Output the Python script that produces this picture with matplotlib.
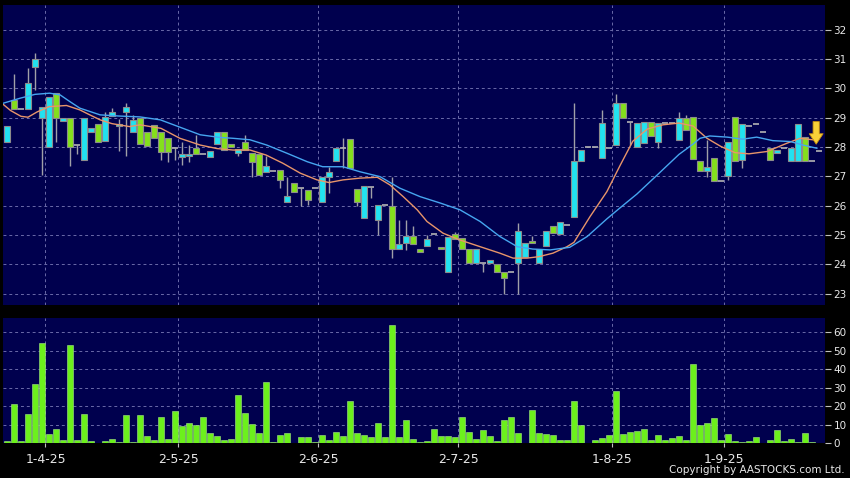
import numpy as np
import matplotlib
matplotlib.use('Agg')
import matplotlib.pyplot as plt

# daily candles (one per trading day, late Mar - mid Sep 2025)
opens = [28.17, 29.61, 29.30, 29.30, 30.73, 29.00, 28.02, 29.84, 28.90, 28.99,
         28.07, 27.56, 28.51, 28.80, 28.21, 29.06, 28.72, 29.21, 28.51, 28.99,
         28.51, 28.76, 28.51, 28.30, 27.98, 27.67, 27.68, 27.98, 27.76, 27.65,
         28.11, 28.53, 28.10, 27.79, 28.19, 27.79, 27.76, 27.14, 27.18, 27.22,
         26.13, 26.77, 26.60, 26.54, 26.60, 26.14, 26.99, 27.51, 27.96, 28.27,
         26.56, 25.57, 26.64, 25.50, 26.02, 26.00, 24.52, 24.72, 24.95, 24.52,
         24.62, 25.03, 24.60, 23.75, 25.02, 24.91, 24.52, 24.05, 24.06, 24.06,
         24.01, 23.75, 23.75, 24.04, 24.24, 24.79, 24.04, 24.63, 25.31, 25.05,
         25.33, 25.63, 27.54, 28.00, 28.00, 27.62, 27.97, 28.07, 29.49, 28.84,
         28.01, 28.14, 28.84, 28.17, 28.82, 28.82, 28.25, 28.99, 29.04, 27.53,
         27.20, 27.62, 26.84, 27.03, 29.04, 27.56, 28.72, 28.78, 28.50, 27.98,
         27.81, 27.98, 27.53, 27.53, 28.36, 27.53, 27.87]
highs = [28.72, 30.49, 29.30, 30.69, 31.20, 29.38, 29.72, 29.84, 28.99, 28.99,
         28.07, 28.99, 28.65, 28.80, 29.21, 29.34, 28.95, 29.50, 29.10, 28.99,
         28.51, 28.76, 28.51, 28.30, 27.98, 28.19, 28.07, 28.42, 27.76, 27.85,
         28.53, 28.53, 28.10, 27.94, 28.42, 27.79, 27.76, 27.70, 27.18, 27.22,
         26.99, 26.77, 26.60, 26.54, 26.60, 26.99, 27.33, 27.96, 28.30, 28.27,
         26.56, 26.68, 26.64, 26.02, 26.02, 26.99, 25.50, 25.50, 25.30, 24.52,
         25.00, 25.03, 24.60, 24.92, 25.10, 24.91, 24.52, 24.52, 24.06, 24.15,
         24.01, 23.75, 23.75, 25.42, 24.72, 24.95, 24.52, 25.12, 25.31, 25.46,
         25.33, 29.50, 27.90, 28.00, 28.00, 29.27, 27.97, 29.80, 29.49, 28.84,
         28.82, 28.87, 28.84, 28.83, 28.82, 28.82, 29.21, 29.10, 29.04, 27.53,
         28.25, 27.62, 26.84, 28.19, 29.04, 28.78, 28.72, 28.78, 28.50, 27.98,
         27.90, 27.98, 27.98, 28.78, 28.36, 27.53, 27.87]
lows = [28.17, 29.30, 29.30, 29.30, 29.95, 27.05, 28.02, 28.19, 28.90, 27.35,
        27.75, 27.56, 28.51, 28.19, 28.21, 29.06, 27.85, 27.70, 28.51, 28.10,
        28.05, 28.30, 27.56, 27.50, 27.56, 27.40, 27.50, 27.76, 27.76, 27.65,
        28.11, 27.90, 28.00, 27.68, 27.90, 26.99, 27.05, 27.14, 27.18, 26.60,
        26.13, 26.46, 26.00, 26.03, 26.60, 26.14, 26.44, 27.51, 27.28, 27.30,
        26.00, 25.57, 26.26, 25.00, 26.02, 24.23, 24.52, 24.50, 24.68, 24.41,
        24.62, 25.03, 24.52, 23.75, 24.85, 24.52, 24.05, 24.05, 23.75, 24.06,
        23.75, 22.99, 23.75, 23.00, 24.24, 24.73, 24.04, 24.63, 25.06, 25.05,
        25.33, 25.63, 27.54, 28.00, 28.00, 27.62, 27.97, 28.07, 29.00, 28.07,
        28.01, 28.14, 28.38, 27.98, 28.82, 28.82, 28.25, 28.59, 27.59, 27.20,
        26.99, 26.84, 26.84, 26.88, 27.53, 27.30, 28.72, 28.78, 28.50, 27.56,
        27.81, 27.98, 27.53, 27.53, 27.53, 27.53, 27.87]
closes = [28.72, 29.30, 29.30, 30.18, 31.01, 29.38, 29.72, 28.99, 28.99, 28.00,
          28.07, 28.99, 28.65, 28.19, 29.04, 29.19, 28.80, 29.38, 28.93, 28.10,
          28.05, 28.30, 27.83, 27.83, 27.98, 27.76, 27.76, 27.76, 27.76, 27.85,
          28.53, 27.90, 28.00, 27.94, 27.90, 27.50, 27.05, 27.36, 27.18, 26.88,
          26.33, 26.46, 26.60, 26.20, 26.60, 26.99, 27.14, 27.96, 27.96, 27.30,
          26.12, 26.68, 26.64, 26.02, 26.02, 24.52, 24.70, 24.95, 24.68, 24.41,
          24.86, 25.03, 24.52, 24.92, 24.85, 24.52, 24.05, 24.52, 24.06, 24.15,
          23.75, 23.53, 23.75, 25.12, 24.72, 24.73, 24.52, 25.12, 25.06, 25.46,
          25.33, 27.51, 27.90, 28.00, 28.00, 28.82, 27.97, 29.49, 29.00, 28.84,
          28.82, 28.87, 28.38, 28.83, 28.82, 28.82, 28.99, 28.59, 27.59, 27.20,
          27.31, 26.84, 26.84, 28.19, 27.53, 28.78, 28.72, 28.78, 28.50, 27.56,
          27.90, 27.98, 27.98, 28.78, 27.53, 27.53, 27.87]
volumes = [1, 21.3, 1, 15.9, 32, 54.4, 5, 7.6, 1.8, 53.2,
           1.8, 15.7, 1.1, 0, 0.9, 2.3, 0.5, 15, 0.4, 15,
           3.6, 1.8, 13.9, 2.2, 17.1, 9, 10.8, 9.9, 14, 5.4,
           3.6, 1.8, 2.2, 26.1, 16.4, 10.5, 5.2, 33.3, 0.5, 4.5,
           5.6, 0, 3.2, 3.2, 0.4, 4.5, 1.8, 5.9, 3.6, 22.9,
           5.6, 4.5, 3.4, 10.8, 3.1, 64, 3.4, 12.3, 2.2, 0.7,
           1.3, 7.7, 4, 4, 3.1, 14, 5.8, 2.2, 7.2, 4,
           1.3, 12.3, 14, 5.6, 0, 18, 5.4, 5, 4.5, 1.4,
           1.4, 22.9, 9.7, 0, 1.8, 2.7, 4.5, 28, 5, 5.8,
           6.3, 7.7, 1.4, 4.5, 1.8, 2.9, 3.6, 1.8, 42.7, 9.9,
           10.8, 13.5, 1.6, 4.9, 0.9, 0.5, 0.9, 3.1, 0, 1.8,
           6.8, 0.9, 2.2, 0.4, 5.6, 0.4, 0]

# moving averages (day index, price)
ma10_day = [-0.5, 0.5, 2, 3, 4.3, 6, 8.5, 10.4, 12, 13.3, 15, 17.5, 19, 22, 24.7,
            27.6, 30, 32.3, 34.7, 37, 39.4, 41.9, 44.3, 46, 48, 50.4, 52.9, 54.7,
            56.6, 58.6, 60, 62.3, 64.7, 67.6, 70.4, 72.3, 74.3, 76, 78, 80, 81,
            83.3, 85.7, 87.6, 89.4, 91.5, 93.7, 96, 98, 100, 102, 104, 106, 108.6,
            111.4, 113.3, 115.1]
ma10_val = [29.45, 29.25, 29.05, 29.02, 29.2, 29.38, 29.42, 29.27, 29.08, 28.93,
            28.8, 28.7, 28.76, 28.64, 28.3, 28.07, 27.95, 27.9, 27.9, 27.73, 27.45,
            27.11, 26.88, 26.79, 26.88, 26.94, 26.97, 26.71, 26.31, 25.86, 25.46,
            25.06, 24.83, 24.6, 24.38, 24.21, 24.21, 24.26, 24.38, 24.6, 24.75,
            25.63, 26.48, 27.38, 28.2, 28.62, 28.76, 28.82, 28.72, 28.3, 28.02,
            27.81, 27.77, 27.85, 28.13, 28.3, 28.25]
ma20_day = [-0.5, 1.9, 4, 6.1, 7.6, 9, 10.4, 13.3, 16, 19, 21.9, 24.7, 27.6, 30.4,
            32.3, 34.7, 37.1, 40, 42.9, 45.1, 48, 50.4, 53.3, 56.1, 59, 61.9, 64.7,
            67.6, 70.4, 72.9, 75.1, 77.6, 80.4, 82.9, 85.7, 87.6, 90, 92.9, 96, 98,
            99, 100.4, 102.9, 105.1, 107.1, 109.4, 111.9, 113.7, 115.7]
ma20_val = [29.5, 29.67, 29.8, 29.84, 29.78, 29.55, 29.33, 29.1, 29.06, 29.03,
            28.93, 28.68, 28.42, 28.33, 28.3, 28.25, 28.07, 27.79, 27.5, 27.33,
            27.33, 27.16, 26.99, 26.6, 26.31, 26.09, 25.86, 25.46, 24.95, 24.6,
            24.52, 24.49, 24.58, 24.95, 25.55, 25.93, 26.4, 27.05, 27.75, 28.1,
            28.3, 28.38, 28.34, 28.27, 28.34, 28.22, 28.19, 28.07, 27.96]

month_labels = ['1-4-25', '2-5-25', '2-6-25', '2-7-25', '1-8-25', '1-9-25']
month_first_day = [6, 25, 45, 65, 87, 103]

BG = '#00004e'
GRID = '#6a6aa8'
TXT = '#e8e8e8'

fig = plt.figure(figsize=(8.5, 4.78), dpi=100, facecolor='black')
ax = fig.add_axes([3 / 850, 1 - 305 / 478, 822 / 850, 300 / 478], facecolor=BG)
axv = fig.add_axes([3 / 850, 1 - 443 / 478, 822 / 850, 125 / 478], facecolor=BG)

x = np.arange(len(closes))
o, h, l, c = map(np.array, (opens, highs, lows, closes))
up = c > o
down = c < o
flat = c == o

# candles
ax.vlines(x, l, h, color='#a0a0a8', lw=1, zorder=2)
ax.bar(x[up], (c - o)[up], bottom=o[up], width=0.82, color='#22e2f0',
       edgecolor='#8c8c8c', lw=0.8, zorder=3)
ax.bar(x[down], (o - c)[down], bottom=c[down], width=0.82, color='#84e01c',
       edgecolor='#8c8c8c', lw=0.8, zorder=3)
ax.hlines(c[flat], x[flat] - 0.45, x[flat] + 0.45, color='#b4b4b4', lw=1.2, zorder=3)

ax.plot(ma10_day, ma10_val, color='#e8956a', lw=1, zorder=4)
ax.plot(ma20_day, ma20_val, color='#46a6f0', lw=1, zorder=4)

# latest-signal arrow
ax.annotate('', xy=(x[-1] - 0.4, 28.1), xytext=(x[-1] - 0.4, 28.87),
            arrowprops=dict(arrowstyle='simple,head_width=1.0,head_length=0.75,tail_width=0.45',
                            fc='#f8d038', ec='#c89010', lw=0.6, shrinkA=0, shrinkB=0),
            zorder=5)

# volume
axv.bar(x, volumes, width=0.82, color='#6cf01c', edgecolor='#a8e88a', lw=0.4, zorder=3)

grid_x = [d - 0.5 for d in month_first_day]
for a in (ax, axv):
    a.set_xlim(-0.57, 116.86)
    a.set_xticks(grid_x)
    a.set_axisbelow(True)
    a.grid(True, color=GRID, ls=(0, (3, 3)), lw=0.7)
    a.yaxis.tick_right()
    a.tick_params(axis='y', colors='#c0c0c0', labelcolor=TXT, length=4, pad=2, labelsize=7.5)
    for s in a.spines.values():
        s.set_visible(False)

ax.set_ylim(22.61, 32.85)
ax.set_yticks(range(23, 33))
ax.tick_params(axis='x', length=0, labelbottom=False)

axv.set_ylim(0, 67.7)
axv.set_yticks(range(0, 61, 10))
axv.set_xticklabels(month_labels)
axv.tick_params(axis='x', colors='#c0c0c0', labelcolor=TXT, length=3, pad=4, labelsize=9)

fig.text(845 / 850, 1 - 470 / 478, 'Copyright by AASTOCKS.com Ltd.', ha='right',
         va='center', color=TXT, fontsize=7.5)

fig.savefig('out.png', dpi=100, facecolor='black')
